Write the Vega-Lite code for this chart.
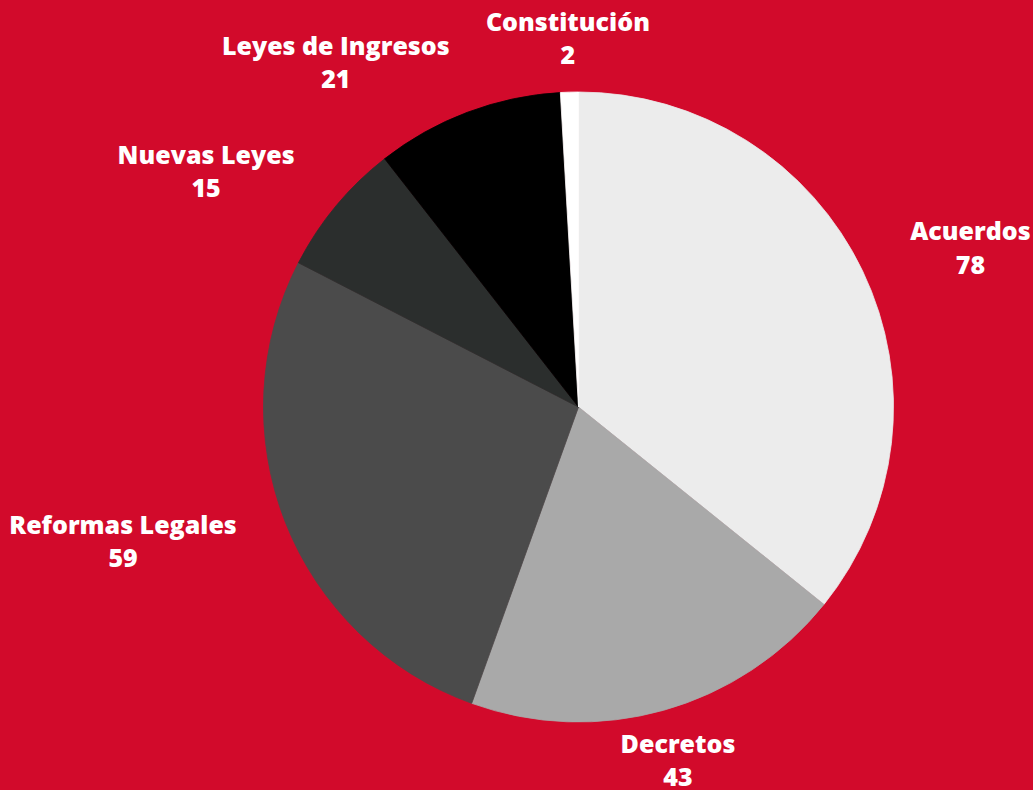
{
  "$schema": "https://vega.github.io/schema/vega-lite/v6.json",
  "autosize": "none",
  "width": 909,
  "height": 766,
  "padding": {"left": 124, "top": 24, "right": 0, "bottom": 0},
  "background": "#d20a2b",
  "config": {"view": {"stroke": null}, "text": {"font": "Open Sans", "fontWeight": 800, "fontSize": 25, "fill": "white", "align": "center", "baseline": "middle"}},
  "data": {
    "values": [
      {"categoria": "Acuerdos", "cantidad": 78, "orden": 1},
      {"categoria": "Decretos", "cantidad": 43, "orden": 2},
      {"categoria": "Reformas Legales", "cantidad": 59, "orden": 3},
      {"categoria": "Nuevas Leyes", "cantidad": 15, "orden": 4},
      {"categoria": "Leyes de Ingresos", "cantidad": 21, "orden": 5},
      {"categoria": "Constitución", "cantidad": 2, "orden": 6}
    ]
  },
  "encoding": {
    "theta": {"field": "cantidad", "type": "quantitative", "stack": true},
    "order": {"field": "orden", "type": "quantitative", "sort": "ascending"}
  },
  "layer": [
    {
      "mark": {"type": "arc", "outerRadius": 315, "strokeWidth": 0.8},
      "encoding": {
        "fill": {
          "field": "categoria",
          "type": "nominal",
          "scale": {
            "domain": ["Acuerdos", "Decretos", "Reformas Legales", "Nuevas Leyes", "Leyes de Ingresos", "Constitución"],
            "range": ["#ececec", "#a9a9a9", "#4b4b4b", "#2b2e2d", "#000000", "#ffffff"]
          },
          "legend": null
        },
        "stroke": {
          "field": "categoria",
          "type": "nominal",
          "scale": {
            "domain": ["Acuerdos", "Decretos", "Reformas Legales", "Nuevas Leyes", "Leyes de Ingresos", "Constitución"],
            "range": ["#ececec", "#a9a9a9", "#4b4b4b", "#2b2e2d", "#000000", "#ffffff"]
          },
          "legend": null
        }
      }
    },
    {"mark": {"type": "text", "radius": 368, "dx": 60, "dy": -16}, "encoding": {"text": {"condition": {"test": "datum.categoria === 'Acuerdos'", "field": "categoria"}, "value": ""}}},
    {"mark": {"type": "text", "radius": 368, "dx": 60, "dy": 18}, "encoding": {"text": {"condition": {"test": "datum.categoria === 'Acuerdos'", "field": "cantidad"}, "value": ""}}},
    {"mark": {"type": "text", "radius": 368, "dy": -16}, "encoding": {"text": {"condition": {"test": "datum.categoria === 'Decretos' || datum.categoria === 'Constitución'", "field": "categoria"}, "value": ""}}},
    {"mark": {"type": "text", "radius": 368, "dy": 17}, "encoding": {"text": {"condition": {"test": "datum.categoria === 'Decretos' || datum.categoria === 'Constitución'", "field": "cantidad"}, "value": ""}}},
    {"mark": {"type": "text", "radius": 368, "dx": -113, "dy": -16}, "encoding": {"text": {"condition": {"test": "datum.categoria === 'Reformas Legales' || datum.categoria === 'Leyes de Ingresos'", "field": "categoria"}, "value": ""}}},
    {"mark": {"type": "text", "radius": 368, "dx": -113, "dy": 17}, "encoding": {"text": {"condition": {"test": "datum.categoria === 'Reformas Legales' || datum.categoria === 'Leyes de Ingresos'", "field": "cantidad"}, "value": ""}}},
    {"mark": {"type": "text", "radius": 368, "dx": -89, "dy": -16}, "encoding": {"text": {"condition": {"test": "datum.categoria === 'Nuevas Leyes'", "field": "categoria"}, "value": ""}}},
    {"mark": {"type": "text", "radius": 368, "dx": -89, "dy": 17}, "encoding": {"text": {"condition": {"test": "datum.categoria === 'Nuevas Leyes'", "field": "cantidad"}, "value": ""}}}
  ]
}
